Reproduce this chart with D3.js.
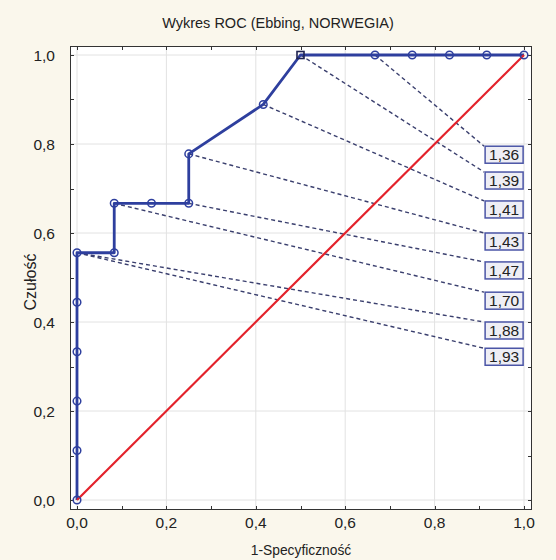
<!DOCTYPE html>
<html>
<head>
<meta charset="utf-8">
<script src="https://cdn.jsdelivr.net/npm/d3@7"></script>
<style>
  html, body { margin: 0; padding: 0; background: #faf7ec; }
  svg { display: block; }
  text { font-family: "Liberation Sans", Arial, sans-serif; }
</style>
</head>
<body>
<svg id="chart" width="556" height="560"></svg>
<script>
// ---- data ----
const fpr = [0, 0, 0, 0, 0, 0, 0.0833, 0.0833, 0.1667, 0.25, 0.25, 0.4167, 0.5, 0.6667, 0.75, 0.8333, 0.9167, 1.0];
const tpr = [0, 0.1111, 0.2222, 0.3333, 0.4444, 0.5556, 0.5556, 0.6667, 0.6667, 0.6667, 0.7778, 0.8889, 1.0, 1.0, 1.0, 1.0, 1.0, 1.0];
const cutoffLabels = ["1,36", "1,39", "1,41", "1,43", "1,47", "1,70", "1,88", "1,93"];
const cutoffPointIndex = [13, 12, 11, 10, 9, 7, 5, 5];
const diagonal = [[0, 0], [1, 1]];
const tickValues = [0, 0.2, 0.4, 0.6, 0.8, 1.0];
const minorTickValues = [0.1, 0.3, 0.5, 0.7, 0.9];
const titleText = "Wykres ROC (Ebbing, NORWEGIA)";
const xTitle = "1-Specyficzność";
const yTitle = "Czułość";
// layout for label boxes (data-space anchor of box top-left)
const labelBoxX = 0.913;
const labelBoxTop = [0.795, 0.737, 0.672, 0.600, 0.535, 0.467, 0.400, 0.341];

// ---- layout ----
const frame = { left: 70, right: 532, top: 46, bottom: 510 };
const x = d3.scaleLinear().domain([0, 1]).range([77, 524]);
const y = d3.scaleLinear().domain([0, 1]).range([500, 55]);
const fmt = v => d3.format(".1f")(v).replace(".", ",");

const svg = d3.select("#chart");
const blue = "#2e3f9e";
const red = "#e3222b";

// plot area
svg.append("rect")
  .attr("x", frame.left).attr("y", frame.top)
  .attr("width", frame.right - frame.left).attr("height", frame.bottom - frame.top)
  .attr("fill", "#ffffff");

// grid
const grid = svg.append("g").attr("stroke", "#e2e2e2").attr("stroke-width", 1);
tickValues.forEach(v => {
  grid.append("line").attr("x1", x(v)).attr("x2", x(v)).attr("y1", frame.top).attr("y2", frame.bottom);
  grid.append("line").attr("y1", y(v)).attr("y2", y(v)).attr("x1", frame.left).attr("x2", frame.right);
});

// frame
svg.append("rect")
  .attr("x", frame.left + 0.5).attr("y", frame.top + 0.5)
  .attr("width", frame.right - frame.left - 1).attr("height", frame.bottom - frame.top - 1)
  .attr("fill", "none").attr("stroke", "#333").attr("stroke-width", 1);

// inward ticks on all four sides
const ticks = svg.append("g").attr("stroke", "#333").attr("stroke-width", 1);
const allTicks = tickValues.concat(minorTickValues);
allTicks.forEach(v => {
  const L = 4;
  ticks.append("line").attr("x1", Math.round(x(v)) + 0.5).attr("x2", Math.round(x(v)) + 0.5).attr("y1", frame.bottom).attr("y2", frame.bottom - L);
  ticks.append("line").attr("x1", Math.round(x(v)) + 0.5).attr("x2", Math.round(x(v)) + 0.5).attr("y1", frame.top).attr("y2", frame.top + L);
  ticks.append("line").attr("y1", Math.round(y(v)) + 0.5).attr("y2", Math.round(y(v)) + 0.5).attr("x1", frame.left).attr("x2", frame.left + L);
  ticks.append("line").attr("y1", Math.round(y(v)) + 0.5).attr("y2", Math.round(y(v)) + 0.5).attr("x1", frame.right).attr("x2", frame.right - L);
});

// tick labels
svg.append("g").selectAll("text").data(tickValues).join("text")
  .attr("x", d => x(d)).attr("y", 528)
  .attr("text-anchor", "middle").attr("font-size", 15.5).attr("fill", "#222")
  .text(fmt);
svg.append("g").selectAll("text").data(tickValues).join("text")
  .attr("x", 55).attr("y", d => y(d) + 5.5)
  .attr("text-anchor", "end").attr("font-size", 15.5).attr("fill", "#222")
  .text(fmt);

// titles
svg.append("text").attr("x", 278).attr("y", 28).attr("text-anchor", "middle")
  .attr("font-size", 14.5).attr("fill", "#222").text(titleText);
svg.append("text").attr("x", 301).attr("y", 555).attr("text-anchor", "middle")
  .attr("font-size", 13.8).attr("fill", "#222").text(xTitle);
svg.append("text").attr("transform", "translate(36,282) rotate(-90)").attr("text-anchor", "middle")
  .attr("font-size", 16).attr("fill", "#222").text(yTitle);

// dashed leader lines
const pts = fpr.map((f, i) => [f, tpr[i]]);
svg.append("g").selectAll("line").data(cutoffLabels).join("line")
  .attr("x1", (d, i) => x(fpr[cutoffPointIndex[i]]))
  .attr("y1", (d, i) => y(tpr[cutoffPointIndex[i]]))
  .attr("x2", (d, i) => x(labelBoxX) - 1)
  .attr("y2", (d, i) => y(labelBoxTop[i]))
  .attr("stroke", "#3a3f6e").attr("stroke-width", 1.4).attr("stroke-dasharray", "4,3");

// ROC line
const line = d3.line().x(d => x(d[0])).y(d => y(d[1]));
svg.append("path").datum(pts).attr("d", line)
  .attr("fill", "none").attr("stroke", blue).attr("stroke-width", 2.8).attr("stroke-linejoin", "round");

// diagonal
svg.append("path").datum(diagonal).attr("d", line)
  .attr("fill", "none").attr("stroke", red).attr("stroke-width", 2.2);

// markers
svg.append("g").selectAll("circle").data(pts.filter((d, i) => i !== 12)).join("circle")
  .attr("cx", d => x(d[0])).attr("cy", d => y(d[1])).attr("r", 3.8)
  .attr("fill", "none").attr("stroke", blue).attr("stroke-width", 1.5);
svg.append("rect")
  .attr("x", x(fpr[12]) - 3.5).attr("y", y(tpr[12]) - 3.5)
  .attr("width", 7).attr("height", 7)
  .attr("fill", "none").attr("stroke", "#1e2250").attr("stroke-width", 1.6);

// label boxes
const boxes = svg.append("g").selectAll("g").data(cutoffLabels).join("g")
  .attr("transform", (d, i) => `translate(${x(labelBoxX)},${y(labelBoxTop[i])})`);
boxes.append("rect").attr("width", 38).attr("height", 17)
  .attr("fill", "#eeeef5").attr("stroke", "#4b55a6").attr("stroke-width", 1.5);
boxes.append("text").attr("x", 19).attr("y", 14).attr("text-anchor", "middle")
  .attr("font-size", 15.5).attr("fill", "#222").text(d => d);
</script>
</body>
</html>
